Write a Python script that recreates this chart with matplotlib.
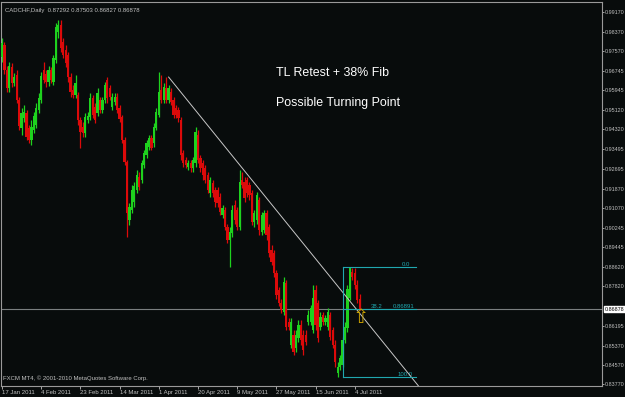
import matplotlib
matplotlib.use("Agg")
import matplotlib.pyplot as plt
from matplotlib import font_manager

# ---------------- data ----------------
symbol_title = "CADCHF,Daily  0.87292 0.87503 0.86827 0.86878"

opens = [
 .9732,.9782,.9678,.9604,.9691,.9624,.9658,.9554,.9438,.9479,
 .9500,.9438,.9388,.9430,.9450,.9513,.9554,.9678,.9662,.9629,
 .9678,.9629,.9720,.9836,.9865,.9794,.9761,.9740,.9649,.9595,
 .9575,.9575,.9471,.9442,.9417,.9471,.9484,.9562,.9525,.9500,
 .9554,.9513,.9554,.9637,.9604,.9525,.9546,.9566,.9521,.9484,
 .9388,.9297,.9057,.9099,.9132,.9181,.9235,.9223,.9285,.9326,
 .9359,.9397,.9376,.9438,.9492,.9595,.9554,.9604,.9554,.9587,
 .9554,.9521,.9513,.9471,.9335,.9306,.9277,.9293,.9272,.9293,
 .9409,.9314,.9293,.9272,.9244,.9169,.9210,.9181,.9181,.9152,
 .9078,.9099,.9028,.8974,.9003,.9119,.9099,.9028,.9223,.9215,
 .9223,.9202,.9169,.9049,.9057,.9140,.9008,.9016,.9086,.9028,
 .8933,.8921,.8838,.8767,.8714,.8676,.8796,.8635,.8540,.8581,
 .8527,.8569,.8622,.8581,.8581,.8635,.8635,.8602,.8767,.8714,
 .8614,.8664,.8635,.8614,.8664,.8602,.8540,.8424,.8449,.8457,
 .8560,.8610,.8734,.8842,.8838,.8788,.87292]
closes = [
 .9790,.9678,.9604,.9695,.9624,.9649,.9554,.9446,.9500,.9504,
 .9401,.9388,.9442,.9488,.9521,.9562,.9653,.9637,.9629,.9678,
 .9637,.9728,.9856,.9865,.9769,.9740,.9707,.9649,.9587,.9575,
 .9624,.9471,.9421,.9417,.9484,.9488,.9562,.9492,.9471,.9583,
 .9513,.9554,.9616,.9562,.9566,.9566,.9566,.9513,.9475,.9388,
 .9297,.9086,.9111,.9181,.9198,.9244,.9194,.9293,.9335,.9376,
 .9397,.9355,.9442,.9504,.9587,.9554,.9608,.9554,.9604,.9546,
 .9492,.9492,.9479,.9326,.9293,.9285,.9293,.9272,.9306,.9421,
 .9306,.9272,.9244,.9223,.9181,.9223,.9169,.9132,.9128,.9090,
 .9107,.9028,.8974,.9008,.9099,.9057,.9028,.9215,.9202,.9148,
 .9169,.9161,.9049,.9086,.9161,.9016,.9078,.9086,.8995,.8921,
 .8883,.8838,.8747,.8714,.8685,.8800,.8614,.8614,.8635,.8511,
 .8581,.8622,.8560,.8519,.8552,.8664,.8693,.8734,.8622,.8569,
 .8656,.8635,.8652,.8676,.8573,.8540,.8469,.8449,.8486,.8560,
 .8614,.8771,.8858,.8821,.8788,.8726,.86878]
highs = [
 .9811,.9794,.9695,.9711,.9707,.9666,.9678,.9566,.9521,.9533,
 .9513,.9450,.9471,.9504,.9542,.9583,.9670,.9711,.9678,.9695,
 .9691,.9740,.9873,.9885,.9885,.9811,.9782,.9753,.9666,.9616,
 .9658,.9587,.9484,.9463,.9500,.9504,.9583,.9575,.9542,.9604,
 .9566,.9566,.9629,.9649,.9616,.9583,.9583,.9583,.9533,.9492,
 .9401,.9306,.9128,.9202,.9215,.9264,.9256,.9306,.9347,.9388,
 .9409,.9409,.9459,.9521,.9670,.9658,.9624,.9649,.9616,.9604,
 .9566,.9533,.9525,.9484,.9347,.9318,.9306,.9306,.9318,.9442,
 .9430,.9326,.9306,.9285,.9256,.9235,.9223,.9194,.9194,.9169,
 .9119,.9111,.9041,.9028,.9119,.9140,.9111,.9264,.9256,.9235,
 .9235,.9215,.9181,.9099,.9173,.9152,.9090,.9099,.9099,.9041,
 .8954,.8933,.8850,.8780,.8730,.8821,.8809,.8652,.8652,.8602,
 .8602,.8643,.8643,.8602,.8602,.8685,.8705,.8788,.8788,.8726,
 .8676,.8676,.8664,.8693,.8676,.8614,.8560,.8469,.8498,.8573,
 .8635,.8788,.8863,.8858,.8858,.8809,.87503]
lows = [
 .9711,.9662,.9587,.9587,.9608,.9612,.9542,.9430,.9409,.9463,
 .9388,.9376,.9368,.9417,.9438,.9500,.9542,.9624,.9608,.9612,
 .9624,.9616,.9707,.9811,.9753,.9728,.9691,.9629,.9566,.9562,
 .9562,.9450,.9355,.9401,.9401,.9459,.9471,.9479,.9459,.9488,
 .9500,.9500,.9542,.9542,.9554,.9513,.9533,.9500,.9463,.9376,
 .9285,.8987,.9037,.9086,.9111,.9169,.9181,.9210,.9272,.9314,
 .9347,.9347,.9359,.9430,.9484,.9542,.9542,.9542,.9542,.9533,
 .9479,.9479,.9463,.9306,.9277,.9272,.9264,.9256,.9256,.9277,
 .9293,.9256,.9223,.9210,.9169,.9152,.9152,.9111,.9111,.9078,
 .9066,.9016,.8962,.8863,.8987,.9041,.9016,.9016,.9190,.9132,
 .9152,.9140,.9037,.9028,.9041,.8995,.8995,.9003,.8974,.8904,
 .8871,.8821,.8730,.8701,.8672,.8664,.8602,.8602,.8527,.8498,
 .8511,.8552,.8540,.8498,.8540,.8622,.8622,.8589,.8602,.8552,
 .8602,.8622,.8622,.8602,.8560,.8527,.8449,.8407,.8436,.8449,
 .8548,.8594,.8726,.8809,.8771,.8714,.86827]

price_ticks = [0.99170, 0.98370, 0.97570, 0.96745, 0.95945, 0.95120, 0.94320,
               0.93495, 0.92695, 0.91870, 0.91070, 0.90245, 0.89445, 0.88620,
               0.87820, 0.86195, 0.85370, 0.84570, 0.83770]
date_labels = ["17 Jan 2011", "4 Feb 2011", "23 Feb 2011", "14 Mar 2011", "1 Apr 2011",
               "20 Apr 2011", "9 May 2011", "27 May 2011", "15 Jun 2011", "4 Jul 2011"]
date_label_bars = [0, 16, 32, 48, 64, 80, 96, 112, 128, 144]

# trend line anchors (bar index, price)
tl_bars = [68, 172]
tl_prices = [0.9649, 0.8345]

# fibonacci retracement
fib_high = 0.8863
fib_low = 0.84077
fib_levels = [0.0, 38.2, 100.0]
fib_start_bar = 139
fib_end_bar = 169

annot1 = "TL Retest + 38% Fib"
annot2 = "Possible Turning Point"
footer = "FXCM MT4, \u00a9 2001-2010 MetaQuotes Software Corp."

# ---------------- style ----------------
BG = "#080c0c"
UP = "#1ed21e"
DN = "#dc0a0a"
FIB = "#20a8b0"
GRAY = "#c0c0c0"
FONT = "Liberation Sans"
installed = {f.name for f in font_manager.fontManager.ttflist}
NARROW = ["Liberation Sans Narrow"] if "Liberation Sans Narrow" in installed else ["Liberation Sans"]
SMALL = 4.6 if NARROW[0] == "Liberation Sans Narrow" else 3.9

fig = plt.figure(figsize=(6.25, 3.97), dpi=100, facecolor=BG)
W, H = 625, 397
ax = fig.add_axes([1 / W, (H - 386) / H, 601 / W, 384 / H], facecolor=BG)

n = len(closes)
idx = list(range(n))
cols = [UP if c >= o else DN for o, c in zip(opens, closes)]
ax.vlines(idx, lows, highs, colors=cols, linewidth=0.9, zorder=2)
ax.bar(idx, [max(abs(c - o), 0.0002) for o, c in zip(opens, closes)],
       bottom=[min(o, c) for o, c in zip(opens, closes)],
       width=0.92, color=cols, linewidth=0, zorder=3)

ax.set_xlim(-0.41, 244.9)
ax.set_ylim(0.8370, 0.99597)

# current price line
last = closes[-1]
ax.axhline(last, color="#7a7f80", linewidth=0.8, zorder=1)

# trend line
ax.plot(tl_bars, tl_prices, color="#c8c8c8", linewidth=0.7, zorder=4)

# fibonacci
rng = fib_high - fib_low
for lv in fib_levels:
    p = fib_high - rng * lv / 100.0
    ax.plot([fib_start_bar, fib_end_bar], [p, p], color=FIB, linewidth=0.8, zorder=4)
ax.plot([fib_start_bar, fib_start_bar], [fib_low, fib_high], color=FIB, linewidth=0.8, zorder=4)
p0 = fib_high
p38 = fib_high - rng * 0.382
p100 = fib_low
ax.text(fib_end_bar - 2.5, p0, "0.0", color=FIB, fontsize=4.3, family=FONT, ha="right", va="bottom")
ax.text(fib_end_bar - 13.5, p38, "38.2", color=FIB, fontsize=4.3, family=FONT, ha="right", va="bottom")
ax.text(fib_end_bar - 0.5, p38, "%.5f" % p38, color=FIB, fontsize=4.3, family=FONT, ha="right", va="bottom")
ax.text(fib_end_bar - 1.5, p100, "100.0", color=FIB, fontsize=4.3, family=FONT, ha="right", va="bottom")

# arrow marker
ax.text(146.3, last + 0.0004, "\u21e7", color="#c8a000", fontsize=14, family="DejaVu Sans",
        ha="center", va="top", zorder=6)

# annotations
ax.text(0.458, 0.815, annot1, transform=ax.transAxes, color="white", fontsize=8.9,
        family=FONT, ha="left", va="center")
ax.text(0.458, 0.738, annot2, transform=ax.transAxes, color="white", fontsize=8.9,
        family=FONT, ha="left", va="center")
ax.text(0.006, 0.985, symbol_title, transform=ax.transAxes, color=GRAY, fontsize=4.3,
        family=FONT, ha="left", va="top")
ax.text(0.003, 0.012, footer, transform=ax.transAxes, color=GRAY, fontsize=4.3,
        family=FONT, ha="left", va="bottom")

# axes styling
for s in ax.spines.values():
    s.set_color("#9a9a9a")
    s.set_linewidth(0.8)
ax.yaxis.tick_right()
ax.set_yticks(price_ticks)
ax.set_yticklabels(["%.5f" % t for t in price_ticks])
ax.tick_params(axis="y", colors=GRAY, labelsize=SMALL, length=1.5, width=0.6, pad=0.8)
ax.set_xticks(date_label_bars)
ax.set_xticklabels(date_labels, ha="left")
ax.tick_params(axis="x", colors=GRAY, labelsize=4.3, length=2, width=0.6, pad=1)
for lab in ax.get_yticklabels():
    lab.set_family(NARROW)
for lab in ax.get_xticklabels():
    lab.set_family(FONT)

# current price box on the price scale
ax.annotate("%.5f" % last, xy=(1.0, last), xycoords=("axes fraction", "data"),
            xytext=(2.0, 0), textcoords="offset points", color="black", fontsize=SMALL,
            family=NARROW, ha="left", va="center",
            bbox=dict(boxstyle="square,pad=0.12", fc="white", ec="white"))

fig.savefig("out.png", dpi=100, facecolor=BG)
